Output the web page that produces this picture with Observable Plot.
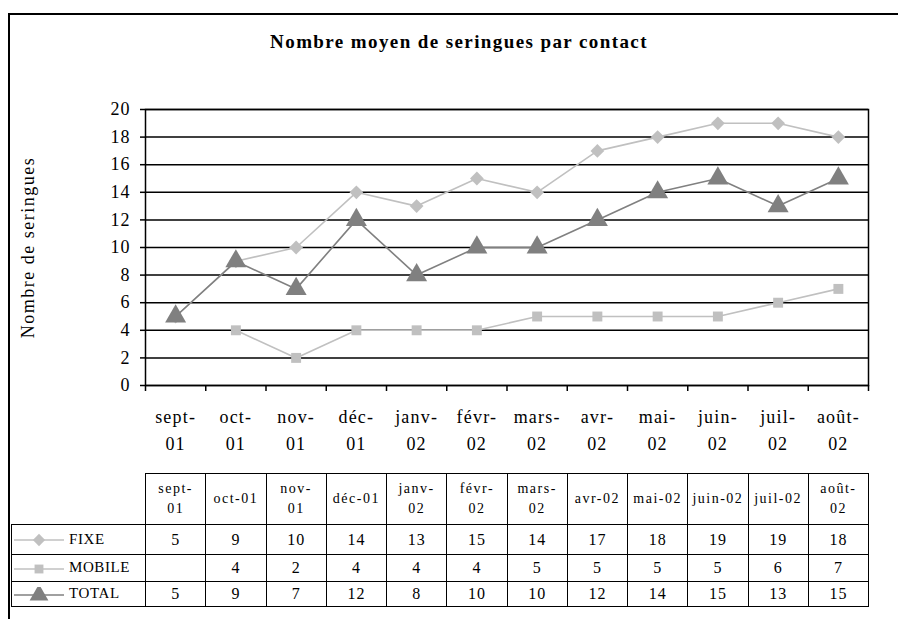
<!DOCTYPE html>
<html>
<head>
<meta charset="utf-8">
<script src="https://cdn.jsdelivr.net/npm/d3@7"></script>
<script src="https://cdn.jsdelivr.net/npm/@observablehq/plot@0.6"></script>
<style>
  html, body { margin: 0; padding: 0; background: #fff; }
  #root { position: relative; width: 898px; height: 619px; overflow: hidden; font-family: "Liberation Serif", "Times New Roman", serif; }
  #frame { position: absolute; left: 8px; top: 13px; width: 1000px; height: 1000px; border-left: 2px solid #000; border-top: 2px solid #000; box-sizing: border-box; }
  #title { position: absolute; left: 0; width: 918px; top: 31px; text-align: center; font-weight: bold; font-size: 19px; letter-spacing: 1.4px; }
  #chart { position: absolute; left: 0; top: 0; }
  #chart svg g[aria-label="x-axis tick label"] text { letter-spacing: 1.2px; }
  #chart svg g[aria-label="y-axis tick label"] text { letter-spacing: 1px; }
  #chart svg g[aria-label="text"] text { letter-spacing: 1.5px; }
  #tbl { position: absolute; left: 11px; top: 473px; border-collapse: collapse; table-layout: fixed; font-family: "Liberation Serif", serif; }
  #tbl td { border: 1px solid #000; text-align: center; padding: 0; font-size: 16px; letter-spacing: 1px; }
  #tbl td.blank { border: none; border-bottom: 1px solid #000; }
  #tbl tr.head td { height: 50px; font-size: 14px; line-height: 20px; letter-spacing: 1.5px; }
  #tbl td.leg { text-align: left; white-space: nowrap; font-size: 15px; letter-spacing: 0.6px; }
  #tbl td.leg svg { vertical-align: middle; margin-right: 3px; }
</style>
</head>
<body>
<div id="root">
  <div id="frame"></div>
  <div id="title"></div>
  <div id="chart"></div>
  <table id="tbl"></table>
</div>
<script>
const title = "Nombre moyen de seringues par contact";
const yLabel = "Nombre de seringues";
const months = ["sept-01","oct-01","nov-01","déc-01","janv-02","févr-02","mars-02","avr-02","mai-02","juin-02","juil-02","août-02"];
const axisLabels = ["sept-\n01","oct-\n01","nov-\n01","déc-\n01","janv-\n02","févr-\n02","mars-\n02","avr-\n02","mai-\n02","juin-\n02","juil-\n02","août-\n02"];
const tableHeaders = ["sept-\n01","oct-01","nov-\n01","déc-01","janv-\n02","févr-\n02","mars-\n02","avr-02","mai-02","juin-02","juil-02","août-\n02"];
const seriesNames = ["FIXE","MOBILE","TOTAL"];
const fixe =   [5, 9, 10, 14, 13, 15, 14, 17, 18, 19, 19, 18];
const mobile = [null, 4, 2, 4, 4, 4, 5, 5, 5, 5, 6, 7];
const total =  [5, 9, 7, 12, 8, 10, 10, 12, 14, 15, 13, 15];
const yTicks = [0, 2, 4, 6, 8, 10, 12, 14, 16, 18, 20];

const seriesValues = [fixe, mobile, total];
const seriesStyle = {
  FIXE:   {color: "#c0c0c0", symbol: "diamond2", r: 6.2},
  MOBILE: {color: "#c0c0c0", symbol: "square", r: 5.6},
  TOTAL:  {color: "#808080", symbol: "triangle", r: 7.8}
};

document.getElementById("title").textContent = title;

const rows = seriesNames.map((s, k) =>
  months.map((m, i) => ({series: s, month: m, i, value: seriesValues[k][i]}))
    .filter(d => d.value != null)
);

const marks = [
  Plot.ruleY(yTicks, {stroke: "#000", strokeWidth: 1.5}),
  Plot.frame({stroke: "#000", strokeWidth: 1.5}),
  Plot.axisY(yTicks, {tickSize: 5, tickPadding: 10, fontSize: 18, strokeWidth: 1.5, label: null, tickFormat: d => d}),
  Plot.axisX(d3.range(13), {tickSize: 6, strokeWidth: 1.5, tickFormat: () => "", label: null}),
  Plot.axisX(d3.range(12).map(i => i + 0.5), {tickSize: 0, tickPadding: 18, fontSize: 18, lineHeight: 1.5, tickFormat: v => axisLabels[Math.floor(v)], label: null}),
  Plot.text([yLabel], {frameAnchor: "left", textAnchor: "middle", rotate: -90, dx: -117, fontSize: 18, text: d => d})
];
rows.forEach((data, k) => {
  const st = seriesStyle[seriesNames[k]];
  marks.push(Plot.line(data, {x: d => d.i + 0.5, y: "value", stroke: st.color, strokeWidth: 1.6}));
  marks.push(Plot.dot(data, {x: d => d.i + 0.5, y: "value", symbol: () => st.symbol, r: st.r, fill: st.color, stroke: "none"}));
});

const chart = Plot.plot({
  width: 898,
  height: 460,
  marginLeft: 145,
  marginRight: 30,
  marginTop: 109,
  marginBottom: 75,
  style: {fontFamily: "Liberation Serif, serif", background: "transparent", color: "#000"},
  x: {type: "linear", domain: [0, 12]},
  y: {domain: [0, 20]},
  symbol: {type: "identity"},
  marks
});
document.getElementById("chart").appendChild(chart);

// table
const tbl = document.getElementById("tbl");
const colg = document.createElement("colgroup");
const c0 = document.createElement("col"); c0.style.width = "134px"; colg.appendChild(c0);
months.forEach(() => { const c = document.createElement("col"); c.style.width = (723 / 12) + "px"; colg.appendChild(c); });
tbl.appendChild(colg);
const head = document.createElement("tr"); head.className = "head";
const blank = document.createElement("td"); blank.className = "blank"; head.appendChild(blank);
tableHeaders.forEach(h => {
  const td = document.createElement("td");
  td.innerHTML = h.split("\n").join("<br>");
  head.appendChild(td);
});
tbl.appendChild(head);
const rowHeights = [30, 27, 25];
function legendSvg(name) {
  const st = seriesStyle[name];
  const size = st.r * st.r * Math.PI * 0.8;
  const symPath = name === "TOTAL" ? d3.symbol(d3.symbolTriangle, size)() : name === "MOBILE" ? d3.symbol(d3.symbolSquare, size)() : d3.symbol(d3.symbolDiamond2, size)();
  return `<svg width="54" height="16" viewBox="0 0 54 16"><line x1="2" x2="52" y1="8" y2="8" stroke="${st.color}" stroke-width="1.6"/><path d="${symPath}" transform="translate(27,8)" fill="${st.color}"/></svg>`;
}
seriesNames.forEach((name, k) => {
  const tr = document.createElement("tr");
  tr.style.height = rowHeights[k] + "px";
  const lg = document.createElement("td"); lg.className = "leg";
  lg.innerHTML = legendSvg(name) + name;
  tr.appendChild(lg);
  seriesValues[k].forEach(v => {
    const td = document.createElement("td");
    td.textContent = v == null ? "" : v;
    tr.appendChild(td);
  });
  tbl.appendChild(tr);
});
</script>
</body>
</html>
